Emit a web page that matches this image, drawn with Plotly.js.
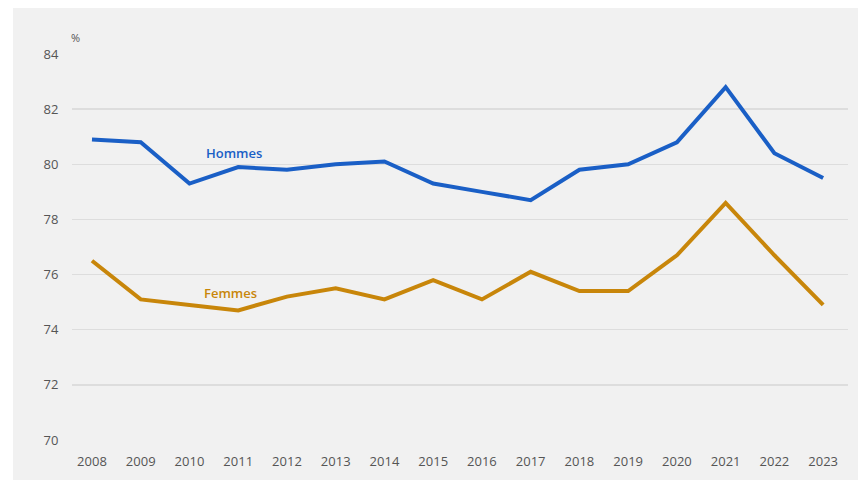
<!DOCTYPE html>
<html>
<head>
<meta charset="utf-8">
<script src="https://cdn.plot.ly/plotly-3.0.1.min.js"></script>
<style>
html,body{margin:0;padding:0;background:#ffffff;width:858px;height:482px;overflow:hidden;}
#chart{position:absolute;left:13px;top:8px;width:845px;height:472px;}
</style>
</head>
<body>
<div id="chart"></div>
<script>
const years = [2008,2009,2010,2011,2012,2013,2014,2015,2016,2017,2018,2019,2020,2021,2022,2023];
const hommes = [80.9,80.8,79.3,79.9,79.8,80.0,80.1,79.3,79.0,78.7,79.8,80.0,80.8,82.8,80.4,79.5];
const femmes = [76.5,75.1,74.9,74.7,75.2,75.5,75.1,75.8,75.1,76.1,75.4,75.4,76.7,78.6,76.7,74.9];
const yTicks = [70,72,74,76,78,80,82,84];

const blue = '#1a5fc6';
const gold = '#c8860a';

const data = [
  {x: years, y: hommes, type: 'scatter', mode: 'lines', name: 'Hommes',
   line: {color: blue, width: 4}, hoverinfo: 'x+y'},
  {x: years, y: femmes, type: 'scatter', mode: 'lines', name: 'Femmes',
   line: {color: gold, width: 4}, hoverinfo: 'x+y'}
];

const layout = {
  width: 845, height: 472,
  paper_bgcolor: '#f1f1f1', plot_bgcolor: '#f1f1f1',
  margin: {l: 59, r: 10, t: 46, b: 40},
  showlegend: false,
  font: {family: '"Open Sans", sans-serif', size: 13, color: '#555555'},
  xaxis: {
    range: [2007.59, 2023.51], tickmode: 'array', tickvals: years,
    ticktext: years.map(String), showgrid: false, zeroline: false, showline: false,
    ticks: 'outside', ticklen: 9, tickcolor: 'rgba(0,0,0,0)',
    tickfont: {size: 13, color: '#555555'}
  },
  yaxis: {
    range: [70, 84], tickmode: 'array', tickvals: yTicks,
    showgrid: true, gridcolor: '#dddddd', gridwidth: 1.5, zeroline: false, showline: false,
    ticks: 'outside', ticklen: 10, tickcolor: 'rgba(0,0,0,0)',
    tickfont: {size: 13, color: '#555555'}
  },
  annotations: [
    {text: '%', xref: 'paper', yref: 'paper', x: 0.005, y: 1.0, yshift: 17,
     xanchor: 'center', yanchor: 'middle', showarrow: false,
     font: {size: 11, color: '#555555'}},
    {text: 'Hommes', x: 2010.91, y: 80.4, xref: 'x', yref: 'y', showarrow: false,
     font: {size: 13, color: blue, weight: 600}},
    {text: 'Femmes', x: 2010.85, y: 75.33, xref: 'x', yref: 'y', showarrow: false,
     font: {size: 13, color: gold, weight: 600}}
  ]
};

Plotly.newPlot('chart', data, layout, {displayModeBar: false, staticPlot: true});
</script>
</body>
</html>
